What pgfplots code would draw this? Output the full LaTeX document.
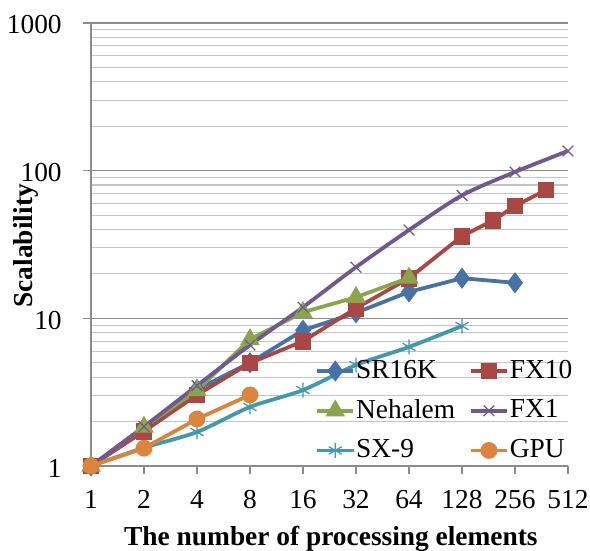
\documentclass[border=0pt]{standalone}
\usepackage{fontspec}
\setmainfont{Liberation Serif}
\usepackage{pgfplots}
\pgfplotsset{compat=1.18}
\definecolor{cSR}{HTML}{4572A7}
\definecolor{cFXt}{HTML}{AA4643}
\definecolor{cNeh}{HTML}{89A54E}
\definecolor{cFXo}{HTML}{71588F}
\definecolor{cSX}{HTML}{4198AF}
\definecolor{cGPU}{HTML}{DB843D}
\definecolor{gridmaj}{HTML}{8C8C8C}
\definecolor{gridmin}{HTML}{C4C4C4}
\begin{document}
\fontsize{27.5}{32}\selectfont
\begin{tikzpicture}
\begin{axis}[
  name=ax,
  scale only axis,
  width=477bp, height=443bp,
  xmode=log, log basis x=2, ymode=log,
  xmin=1, xmax=512, ymin=1, ymax=1000,
  xtick={1,2,4,8,16,32,64,128,256,512},
  xticklabels={1,2,4,8,16,32,64,128,256,512},
  ytick={1,10,100,1000},
  yticklabels={1,10,100,1000},
  xminorticks=false,
  yminorgrids=true, ymajorgrids=true,
  minor y tick num=8,
  minor tick length=0pt,
  major tick length=8bp,
  tick align=outside,
  axis x line*=bottom, axis y line*=left,
  axis line style={gridmaj, line width=1.2pt, -},
  every tick/.style={gridmaj, line width=1.2pt},
  major grid style={gridmaj, line width=1.1pt},
  minor grid style={gridmin, line width=1.1pt},
  /pgf/number format/assume math mode=true,
  tick label style={font=\fontsize{27.5}{32}\selectfont},
  yticklabel style={xshift=-12bp, yshift=-2bp},
  xticklabel style={yshift=-7bp},
  xlabel={\textbf{The number of processing elements}},
  ylabel={\textbf{Scalability}},
  label style={font=\fontsize{27.5}{32}\selectfont},
  every axis y label/.style={at={(axis description cs:-0.137,0.497)}, rotate=90, anchor=center},
  every axis x label/.style={at={(axis description cs:0.503,0)}, anchor=north, yshift=-51bp},
  legend columns=2,
  legend cell align=left,
  legend style={at={(axis description cs:0.47,0.005)}, anchor=south west, draw=none, fill=none,
    font=\fontsize{27.5}{32}\selectfont, row sep=13bp, inner sep=0pt,
    /tikz/every even column/.append style={column sep=13bp},
    nodes={inner xsep=1bp, inner ysep=2bp}},
  legend image code/.code={\draw[mark repeat=2, mark phase=2, #1] plot coordinates {(0bp,0bp) (18bp,0bp) (36bp,0bp)};},
  clip=false,
]
\addplot[cSR, line width=3.8bp, mark=diamond*, mark size=7.5bp, mark options={solid}] coordinates {
 (1,1) (2,1.75) (4,3.3) (8,5.0) (16,8.3) (32,10.9) (64,15.1) (128,18.7) (256,17.4)};
\addlegendentry{SR16K}
\addplot[cFXt, line width=3.8bp, mark=square*, mark size=6.5bp] coordinates {
 (1,1) (2,1.72) (4,3.03) (8,4.98) (16,7.0) (32,11.7) (64,18.7) (128,36) (192,46) (256,57.6) (384,74)};
\addlegendentry{FX10}
\addplot[cNeh, line width=3.8bp, mark=triangle*, mark size=7.5bp] coordinates {
 (1,1) (2,1.84) (4,3.25) (8,7.2) (16,11.0) (32,13.9) (64,18.8)};
\addlegendentry{Nehalem}
\addplot[cFXo, line width=3.8bp, smooth, mark=x, mark size=7.5bp, mark options={line width=1.3pt}] coordinates {
 (1,1) (2,1.85) (4,3.5) (8,6.6) (16,11.9) (32,22.2) (64,39.6) (128,68) (256,98) (512,136)};
\addlegendentry{FX1}
\addplot[cSX, line width=3.8bp, smooth, mark=asterisk, mark size=7.5bp, mark options={line width=1.3pt}] coordinates {
 (1,1) (2,1.33) (4,1.70) (8,2.51) (16,3.27) (32,4.83) (64,6.4) (128,8.87)};
\addlegendentry{SX-9}
\addplot[cGPU, line width=3.8bp, mark=*, mark size=6.5bp] coordinates {
 (1,1) (2,1.32) (4,2.08) (8,3.03)};
\addlegendentry{GPU}
\end{axis}
\pgfresetboundingbox
\useasboundingbox ([xshift=-91bp,yshift=-85bp]ax.south west) rectangle ([xshift=22bp,yshift=23bp]ax.north east);
\end{tikzpicture}
\end{document}
